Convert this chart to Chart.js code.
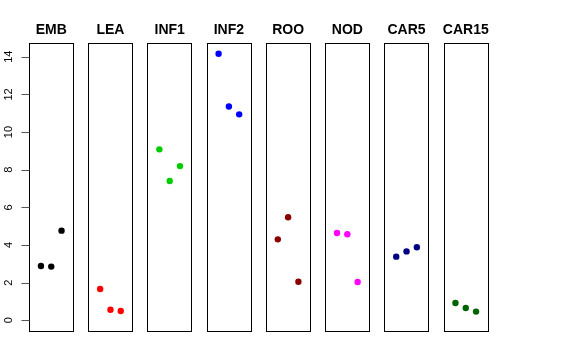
<!DOCTYPE html>
<html>
<head>
<meta charset="utf-8">
<script src="https://cdn.jsdelivr.net/npm/chart.js@4"></script>
<style>
html,body{margin:0;padding:0;background:#fff;}
#wrap{width:576px;height:360px;}
</style>
</head>
<body>
<div id="wrap"><canvas id="c" width="576" height="360"></canvas></div>
<script>
const categories = ['EMB','LEA','INF1','INF2','ROO','NOD','CAR5','CAR15'];
const embValues = [2.88, 2.85, 4.76];
const leaValues = [1.66, 0.56, 0.49];
const inf1Values = [9.08, 7.40, 8.19];
const inf2Values = [14.16, 11.36, 10.94];
const rooValues = [4.30, 5.47, 2.05];
const nodValues = [4.64, 4.57, 2.03];
const car5Values = [3.38, 3.66, 3.88];
const car15Values = [0.92, 0.65, 0.46];
const seriesValues = [embValues, leaValues, inf1Values, inf2Values, rooValues, nodValues, car5Values, car15Values];
const seriesColors = ['#000000','#FF0000','#00CD00','#0000FF','#8B0000','#FF00FF','#000080','#006400'];
const yTickValues = [0, 2, 4, 6, 8, 10, 12, 14];
const yTickLabels = ['0','2','4','6','8','10','12','14'];

// layout: each panel spans x in [-0.16, 4.16] relative to its offset
const PANEL_STEP = 5.75;
const PANEL_MIN = -0.16, PANEL_MAX = 4.16;

const datasets = categories.map((cat, k) => ({
  label: cat,
  data: seriesValues[k].map((v, j) => ({x: k * PANEL_STEP + j + 1, y: v})),
  backgroundColor: seriesColors[k],
  borderWidth: 0,
  pointRadius: 3.2,
  pointHoverRadius: 3.2,
  showLine: false
}));

const panelPlugin = {
  id: 'panels',
  beforeDatasetsDraw(chart) {
    const ctx = chart.ctx, xs = chart.scales.x, ys = chart.scales.y;
    ctx.save();
    ctx.strokeStyle = '#000';
    ctx.lineWidth = 1;
    categories.forEach((cat, k) => {
      const l = xs.getPixelForValue(k * PANEL_STEP + PANEL_MIN);
      const r = xs.getPixelForValue(k * PANEL_STEP + PANEL_MAX);
      const t = ys.getPixelForValue(ys.max);
      const b = ys.getPixelForValue(ys.min);
      ctx.strokeRect(Math.round(l) + 0.5, Math.round(t) + 0.5, Math.round(r - l), Math.round(b - t));
    });
    ctx.restore();
  },
  afterDraw(chart) {
    const ctx = chart.ctx, xs = chart.scales.x, ys = chart.scales.y;
    ctx.save();
    // titles
    ctx.fillStyle = '#000';
    ctx.font = 'bold 14px "Liberation Sans", Arial, sans-serif';
    ctx.textAlign = 'center';
    ctx.textBaseline = 'alphabetic';
    categories.forEach((cat, k) => {
      const c = xs.getPixelForValue(k * PANEL_STEP + (PANEL_MIN + PANEL_MAX) / 2);
      ctx.fillText(cat, c, 34);
    });
    // y axis ticks
    const left = Math.round(xs.getPixelForValue(PANEL_MIN)) + 0.5;
    ctx.strokeStyle = '#555';
    ctx.lineWidth = 1;
    ctx.beginPath();
    yTickValues.forEach(v => {
      const y = Math.round(ys.getPixelForValue(v)) + 0.5;
      ctx.moveTo(left - 8, y);
      ctx.lineTo(left, y);
    });
    ctx.stroke();
    ctx.font = '11px "Liberation Sans", Arial, sans-serif';
    ctx.fillStyle = '#000';
    ctx.textAlign = 'center';
    ctx.textBaseline = 'middle';
    yTickValues.forEach((v, i) => {
      const y = ys.getPixelForValue(v);
      ctx.save();
      ctx.translate(9, y);
      ctx.rotate(-Math.PI / 2);
      ctx.fillText(yTickLabels[i], 0, 0);
      ctx.restore();
    });
    ctx.restore();
  }
};

new Chart(document.getElementById('c'), {
  type: 'scatter',
  data: { datasets },
  options: {
    responsive: false,
    animation: false,
    layout: { padding: { left: 29, right: 88, top: 43, bottom: 29 } },
    plugins: { legend: { display: false }, tooltip: { enabled: false } },
    scales: {
      x: { type: 'linear', display: false, min: PANEL_MIN, max: 7 * PANEL_STEP + PANEL_MAX },
      y: { type: 'linear', display: false, min: -0.57, max: 14.73 }
    }
  },
  plugins: [panelPlugin]
});
</script>
</body>
</html>
